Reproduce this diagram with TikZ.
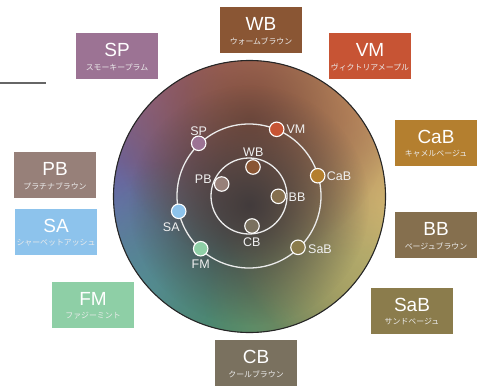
\documentclass[tikz,border=0pt]{standalone}
\usepackage{fontspec}
\setmainfont{Liberation Sans}
\newfontfamily\jp{Noto Sans CJK JP}
\usetikzlibrary{fadings}
\definecolor{cSP}{HTML}{9C7394}
\definecolor{cWB}{HTML}{8A5634}
\definecolor{cVM}{HTML}{C75434}
\definecolor{cCaB}{HTML}{B47F2F}
\definecolor{cBB}{HTML}{856F4E}
\definecolor{cSaB}{HTML}{8B7C4C}
\definecolor{cCB}{HTML}{7A715F}
\definecolor{cPB}{HTML}{978079}
\definecolor{cSA}{HTML}{8DC3EC}
\definecolor{cFM}{HTML}{8ECFA6}
\definecolor{gbase}{HTML}{4E4444}
\definecolor{gsalmon}{HTML}{CC7864}
\definecolor{gmauve}{HTML}{A8647A}
\definecolor{gpurple}{HTML}{6866A8}
\definecolor{gblue}{HTML}{5C90B4}
\definecolor{ggreen}{HTML}{4A9270}
\definecolor{golive}{HTML}{8E8E5A}
\definecolor{gyellow}{HTML}{D8C678}
\definecolor{gtan}{HTML}{C89464}
\definecolor{gbrown}{HTML}{7C4C3C}
\definecolor{gdark}{HTML}{423B3C}
\definecolor{lineg}{HTML}{666666}
\tikzfading[name=blob, inner color=transparent!0, outer color=transparent!100]
\tikzset{
  cbox/.style={minimum width=82pt, minimum height=46pt, inner sep=0pt, draw=none},
  ttl/.style={text=white, font=\fontsize{19}{19}\selectfont, inner sep=0pt},
  sub/.style={text=white!92!black, font=\jp\fontsize{7.9}{7.9}\selectfont, inner sep=0pt},
  dot/.style={circle, minimum size=14.5pt, inner sep=0pt, draw=white, line width=1.1pt},
  lbl/.style={text=white!94!black, font=\fontsize{12.5}{12.5}\selectfont, inner sep=0pt},
  ring/.style={draw=white!92!black, line width=1.3pt},
}
\begin{document}
\begin{tikzpicture}[x=1pt,y=-1pt]
\useasboundingbox (0,0) rectangle (478,385);
\coordinate (C) at (249.5,196.5);
% big colour circle
\begin{scope}
  \clip (C) circle (136pt);
  \fill[gbase] (C) circle (136pt);
  \foreach \x/\y/\r/\c in {
    249/40/200/gsalmon,
    150/100/160/gmauve,
    100/205/180/gpurple,
    130/300/140/gblue,
    250/350/210/ggreen,
    355/300/150/golive,
    400/195/180/gyellow,
    345/95/160/gtan,
    250/120/140/gbrown,
    249/205/120/gdark}
    \fill[\c, path fading=blob] (\x,\y) circle (\r pt);
\end{scope}
\draw[black!85, line width=1.1pt] (C) circle (136pt);
% grey line
\coordinate (gl1) at (0,82.7);
\coordinate (gl2) at (45.7,82.7);
\draw[lineg, line width=2pt] (gl1) -- (gl2);
% rings
\coordinate (R) at (249,196);
\draw[ring] (R) circle (72pt);
\draw[ring] (R) circle (38pt);
% dots and labels
\node[dot, fill=cSP]  (dSP)  at (198.7,143.3) {};
\node[dot, fill=cVM]  (dVM)  at (276.7,129.3) {};
\node[dot, fill=cCaB] (dCaB) at (317.7,175.7) {};
\node[dot, fill=cSaB] (dSaB) at (298,247.3) {};
\node[dot, fill=cFM]  (dFM)  at (200.7,248.7) {};
\node[dot, fill=cSA]  (dSA)  at (178.7,211.3) {};
\node[dot, fill=cWB]  (dWB)  at (253,167) {};
\node[dot, fill=cPB]  (dPB)  at (221.7,184) {};
\node[dot, fill=cBB]  (dBB)  at (278.3,196.3) {};
\node[dot, fill=cCB]  (dCB)  at (252,226) {};
\node[lbl] (lSP)  at (198.7,130.7) {SP};
\node[lbl] (lVM)  at (296,129.3) {VM};
\node[lbl] (lWB)  at (253.3,152.3) {WB};
\node[lbl] (lPB)  at (203.3,179) {PB};
\node[lbl] (lCaB) at (339,175.7) {CaB};
\node[lbl] (lBB)  at (297,197) {BB};
\node[lbl] (lSA)  at (171.3,226.7) {SA};
\node[lbl] (lCB)  at (251.7,242.3) {CB};
\node[lbl] (lSaB) at (320,248.7) {SaB};
\node[lbl] (lFM)  at (200.7,264) {FM};
% boxes
\foreach \n/\x/\y/\t/\s in {
  SP/117/56/SP/スモーキープラム,
  WB/261/30/WB/ウォームブラウン,
  VM/370/56/VM/ヴィクトリアメープル,
  CaB/436/143/CaB/キャメルベージュ,
  BB/436/235/BB/ベージュブラウン,
  SaB/412/311/SaB/サンドベージュ,
  CB/256/363/CB/クールブラウン,
  PB/55/175/PB/プラチナブラウン,
  SA/56/232/SA/シャーベットアッシュ,
  FM/93/305/FM/ファジーミント}{
  \node[cbox, fill=c\n] (b\n) at (\x,\y) {};
  \node[ttl] (t\n) at ([yshift=6.2pt]b\n.center) {\t};
  \node[sub] (s\n) at ([yshift=-11pt]b\n.center) {\s};
}
\end{tikzpicture}
\end{document}
